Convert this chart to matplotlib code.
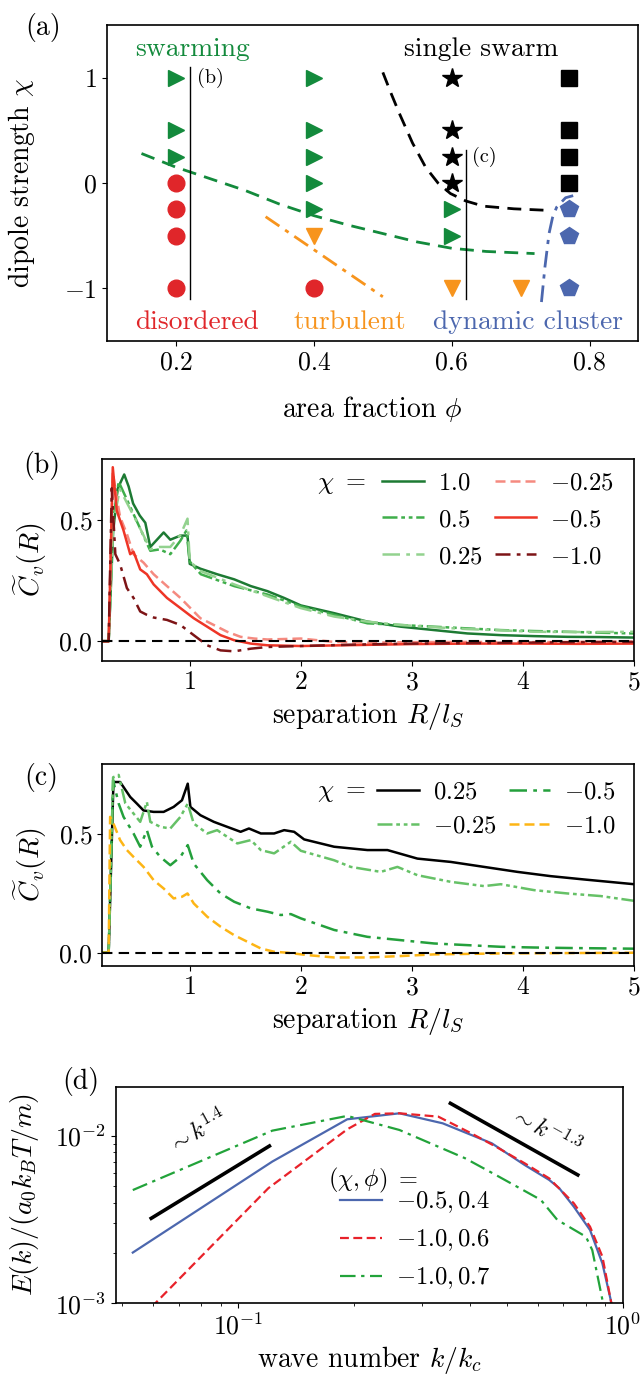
import matplotlib
matplotlib.use("Agg")
import matplotlib.pyplot as plt
import numpy as np

plt.rcParams.update({
    "font.family": "serif",
    "font.serif": ["cmr10", "DejaVu Serif"],
    "mathtext.fontset": "cm",
    "axes.formatter.use_mathtext": True,
    "axes.unicode_minus": True,
    "font.size": 18,
    "xtick.labelsize": 18.5,
    "ytick.labelsize": 18.5,
    "legend.fontsize": 17.7,
    "axes.labelsize": 20,
    "axes.linewidth": 1.2,
})

# ---------------- Panel (a) data: phase diagram ----------------
swarm_phi = [0.2, 0.2, 0.2, 0.4, 0.4, 0.4, 0.4, 0.4, 0.6, 0.6]
swarm_chi = [1.0, 0.5, 0.25, 1.0, 0.5, 0.25, 0.0, -0.25, -0.25, -0.5]
disorder_phi = [0.2, 0.2, 0.2, 0.2, 0.4]
disorder_chi = [0.0, -0.25, -0.5, -1.0, -1.0]
turb_phi = [0.4, 0.6, 0.7]
turb_chi = [-0.5, -1.0, -1.0]
single_phi = [0.6, 0.6, 0.6, 0.6]
single_chi = [1.0, 0.5, 0.25, 0.0]
square_phi = [0.77, 0.77, 0.77, 0.77]
square_chi = [1.0, 0.5, 0.25, 0.0]
cluster_phi = [0.77, 0.77, 0.77]
cluster_chi = [-0.25, -0.5, -1.0]

green_bnd_phi = [0.15, 0.2, 0.25, 0.3, 0.35, 0.4, 0.45, 0.5, 0.55, 0.6, 0.65, 0.72]
green_bnd_chi = [0.28, 0.15, 0.04, -0.07, -0.2, -0.31, -0.40, -0.48, -0.56, -0.62, -0.65, -0.67]
black_bnd_phi = [0.5, 0.512, 0.524, 0.543, 0.562, 0.58, 0.598, 0.62, 0.646, 0.69, 0.74]
black_bnd_chi = [1.05, 0.85, 0.66, 0.38, 0.15, 0.0, -0.10, -0.17, -0.22, -0.245, -0.26]
orange_bnd_phi = [0.33, 0.5]
orange_bnd_chi = [-0.32, -1.08]
blue_bnd_phi = [0.73, 0.735, 0.741, 0.746, 0.752, 0.765, 0.776]
blue_bnd_chi = [-1.13, -0.8, -0.48, -0.33, -0.23, -0.14, -0.12]

# ---------------- Panel (b) data ----------------
b_x_p100 = [0.21, 0.27, 0.31, 0.35, 0.41, 0.45, 0.49, 0.55, 0.6, 0.645, 0.705, 0.765, 0.825, 0.916, 0.98, 1.0,
            1.096, 1.247, 1.40, 1.55, 1.70, 1.85, 2.0, 2.3, 2.6, 2.9, 3.2, 3.5, 3.8, 4.1, 4.4, 4.7, 5.0]
b_y_p100 = [0.0, 0.0, 0.45, 0.63, 0.69, 0.64, 0.57, 0.52, 0.49, 0.39, 0.42, 0.45, 0.42, 0.437, 0.437, 0.32,
            0.30, 0.277, 0.256, 0.228, 0.207, 0.179, 0.148, 0.116, 0.081, 0.06, 0.046, 0.032, 0.025, 0.021, 0.018, 0.017, 0.015]
b_x_p050 = [0.21, 0.27, 0.31, 0.36, 0.46, 0.55, 0.645, 0.73, 0.825, 0.916, 0.97, 1.0, 1.1, 1.4, 1.7, 2.0,
            2.3, 2.6, 2.9, 3.2, 3.5, 3.8, 4.1, 4.4, 4.7, 5.0]
b_y_p050 = [0.0, 0.0, 0.5, 0.66, 0.56, 0.47, 0.374, 0.38, 0.36, 0.416, 0.458, 0.33, 0.277, 0.228, 0.193, 0.144,
            0.109, 0.074, 0.067, 0.06, 0.053, 0.046, 0.042, 0.039, 0.035, 0.032]
b_x_p025 = [0.21, 0.27, 0.31, 0.37, 0.46, 0.55, 0.645, 0.73, 0.825, 0.916, 0.98, 1.0, 1.1, 1.4, 1.7, 2.0,
            2.3, 2.6, 2.9, 3.2, 3.5, 3.8, 4.1, 4.4, 4.7, 5.0]
b_y_p025 = [0.0, 0.0, 0.48, 0.63, 0.55, 0.47, 0.38, 0.39, 0.39, 0.44, 0.507, 0.33, 0.29, 0.235, 0.186, 0.137,
            0.102, 0.081, 0.067, 0.058, 0.05, 0.045, 0.039, 0.038, 0.038, 0.039]
b_x_m025 = [0.21, 0.27, 0.307, 0.34, 0.373, 0.434, 0.494, 0.584, 0.675, 0.795, 0.916, 0.976, 1.096, 1.217,
            1.337, 1.458, 1.58, 1.70, 2.0, 2.3, 2.6, 3.0, 3.5, 4.0, 4.5, 5.0]
b_y_m025 = [0.0, 0.0, 0.70, 0.60, 0.514, 0.444, 0.36, 0.325, 0.277, 0.228, 0.179, 0.151, 0.095, 0.067,
            0.039, 0.018, 0.011, 0.007, 0.011, -0.003, -0.006, -0.004, -0.003, -0.004, -0.003, -0.002]
b_x_m050 = [0.21, 0.27, 0.307, 0.343, 0.404, 0.464, 0.494, 0.554, 0.614, 0.675, 0.795, 0.916, 1.036, 1.157,
            1.277, 1.40, 1.55, 1.70, 2.0, 2.5, 3.0, 3.5, 4.0, 4.5, 5.0]
b_y_m050 = [0.0, 0.0, 0.72, 0.54, 0.458, 0.36, 0.37, 0.297, 0.277, 0.235, 0.179, 0.137, 0.095, 0.06,
            0.025, 0.004, -0.01, -0.017, -0.02, -0.016, -0.012, -0.01, -0.01, -0.011, -0.01]
b_x_m100 = [0.21, 0.27, 0.298, 0.33, 0.373, 0.434, 0.494, 0.554, 0.614, 0.675, 0.795, 0.916, 1.036, 1.157,
            1.277, 1.40, 1.55, 1.70, 2.0, 2.5, 3.0, 3.5, 4.0, 4.5, 5.0]
b_y_m100 = [0.0, 0.0, 0.633, 0.36, 0.318, 0.22, 0.179, 0.123, 0.109, 0.098, 0.088, 0.067, 0.025, -0.017,
            -0.038, -0.042, -0.031, -0.024, -0.02, -0.014, -0.01, -0.008, -0.006, -0.004, -0.003]

# ---------------- Panel (c) data ----------------
c_x_p025 = [0.21, 0.27, 0.313, 0.373, 0.464, 0.524, 0.584, 0.675, 0.765, 0.855, 0.93, 0.982, 1.006, 1.096,
            1.217, 1.337, 1.458, 1.533, 1.64, 1.76, 1.85, 1.94, 2.03, 2.3, 2.6, 2.78, 3.05, 3.35, 3.65, 3.95,
            4.25, 4.55, 5.0]
c_y_p025 = [0.0, 0.0, 0.72, 0.72, 0.657, 0.629, 0.60, 0.594, 0.594, 0.615, 0.643, 0.713, 0.615, 0.58,
            0.552, 0.531, 0.51, 0.524, 0.503, 0.503, 0.517, 0.51, 0.478, 0.447, 0.433, 0.433, 0.397, 0.383,
            0.362, 0.341, 0.323, 0.309, 0.289]
c_x_m025 = [0.21, 0.27, 0.31, 0.36, 0.42, 0.494, 0.554, 0.614, 0.645, 0.735, 0.825, 0.916, 0.982, 1.036,
            1.157, 1.247, 1.337, 1.428, 1.55, 1.64, 1.76, 1.91, 2.0, 2.3, 2.45, 2.72, 2.87, 3.05, 3.35, 3.65,
            3.8, 4.1, 4.4, 4.7, 5.0]
c_y_m025 = [0.0, 0.0, 0.74, 0.75, 0.63, 0.587, 0.552, 0.636, 0.552, 0.531, 0.524, 0.573, 0.629, 0.545,
            0.503, 0.517, 0.489, 0.461, 0.475, 0.433, 0.419, 0.468, 0.43, 0.39, 0.362, 0.341, 0.362, 0.327,
            0.299, 0.281, 0.289, 0.264, 0.25, 0.239, 0.219]
c_x_m050 = [0.21, 0.27, 0.31, 0.36, 0.404, 0.494, 0.554, 0.614, 0.66, 0.735, 0.825, 0.916, 0.982, 1.036,
            1.157, 1.277, 1.40, 1.55, 1.70, 1.82, 1.91, 2.0, 2.3, 2.6, 2.9, 3.2, 3.5, 3.8, 4.1, 4.4, 5.0]
c_y_m050 = [0.0, 0.0, 0.727, 0.629, 0.573, 0.503, 0.447, 0.517, 0.447, 0.404, 0.369, 0.404, 0.454, 0.376,
            0.306, 0.25, 0.215, 0.187, 0.173, 0.159, 0.163, 0.145, 0.096, 0.067, 0.053, 0.039, 0.032, 0.025,
            0.022, 0.02, 0.017]
c_x_m100 = [0.21, 0.27, 0.283, 0.313, 0.373, 0.434, 0.494, 0.584, 0.675, 0.765, 0.855, 0.93, 0.98, 1.036,
            1.157, 1.277, 1.40, 1.52, 1.64, 1.76, 1.88, 2.06, 2.3, 2.6, 2.9, 3.2, 3.8, 5.0]
c_y_m100 = [0.0, 0.0, 0.573, 0.545, 0.475, 0.433, 0.404, 0.362, 0.306, 0.271, 0.229, 0.236, 0.25, 0.208,
            0.152, 0.11, 0.074, 0.046, 0.018, 0.004, 0.0, -0.01, -0.02, -0.02, -0.014, -0.007, -0.003, 0.0]

# ---------------- Panel (d) data ----------------
d_k_blue = [0.0532, 0.1226, 0.192, 0.2624, 0.34, 0.456, 0.555, 0.643, 0.683, 0.745, 0.821, 0.884, 0.929, 0.95]
d_E_blue = [0.00201, 0.00703, 0.01258, 0.01366, 0.0119, 0.00904, 0.00671, 0.00546, 0.00487, 0.00378, 0.00274,
            0.00173, 0.00105, 0.0008]
d_k_red = [0.0532, 0.1197, 0.192, 0.2265, 0.2624, 0.331, 0.403, 0.467, 0.555, 0.643, 0.745, 0.821, 0.884, 0.929, 0.95]
d_E_red = [0.00073, 0.00487, 0.01096, 0.01355, 0.01366, 0.01305, 0.01038, 0.00864, 0.00687, 0.00558, 0.00396,
           0.00287, 0.0019, 0.00105, 0.0008]
d_k_green = [0.0532, 0.1226, 0.192, 0.2624, 0.3886, 0.467, 0.6116, 0.675, 0.801, 0.832, 0.884, 0.9]
d_E_green = [0.00475, 0.01076, 0.01318, 0.01086, 0.00736, 0.00585, 0.00415, 0.00315, 0.0025, 0.00208, 0.00105, 0.0008]
guide1_k = [0.0594, 0.1205]
guide1_E = [0.00322, 0.00871]
guide2_k = [0.356, 0.763]
guide2_E = [0.01567, 0.00585]

# colors
GREEN = "#138a3c"
RED = "#e0262a"
ORANGE = "#f7941d"
BLUE = "#4c67ae"

W, H = 641, 1377
fig = plt.figure(figsize=(W / 100, H / 100), dpi=100)


def rect(l, r, t, b):
    return [l / W, 1 - b / H, (r - l) / W, (b - t) / H]


def ftext(x, y, s, **kw):
    return fig.text(x / W, 1 - y / H, s, **kw)


LEG = dict(frameon=False, handlelength=1.7, handletextpad=0.57, columnspacing=0.5,
           borderpad=0, borderaxespad=0)
PANEL_FS = 20

# ================= (a) =================
axa = fig.add_axes(rect(107, 638, 25, 341))
ms = 12
axa.plot(swarm_phi, swarm_chi, ">", color=GREEN, ms=ms, ls="none")
axa.plot(disorder_phi, disorder_chi, "o", color=RED, ms=ms, ls="none")
axa.plot(turb_phi, turb_chi, "v", color=ORANGE, ms=ms, ls="none")
axa.plot(single_phi, single_chi, "*", color="black", ms=ms + 3, ls="none")
axa.plot(square_phi, square_chi, "s", color="black", ms=ms - 1, ls="none")
axa.plot(cluster_phi, cluster_chi, "p", color=BLUE, ms=ms + 1, ls="none")

axa.plot(green_bnd_phi, green_bnd_chi, color=GREEN, lw=2, dashes=(5, 3))
axa.plot(black_bnd_phi, black_bnd_chi, color="black", lw=2, dashes=(5, 3))
axa.plot(orange_bnd_phi, orange_bnd_chi, color=ORANGE, lw=2, dashes=(6, 2.5, 1.5, 2.5))
axa.plot(blue_bnd_phi, blue_bnd_chi, color=BLUE, lw=2, dashes=(6, 2.5, 1.5, 2.5))

axa.plot([0.22, 0.22], [-1.1, 1.1], color="black", lw=1)
axa.plot([0.62, 0.62], [-1.1, 0.31], color="black", lw=1)
axa.text(0.23, 1.0, "(b)", fontsize=14.5, va="center", ha="left")
axa.text(0.63, 0.25, "(c)", fontsize=14.5, va="center", ha="left")

phase_fs = 19.8
axa.text(0.224, 1.27, "swarming", color=GREEN, ha="center", va="center", fontsize=phase_fs)
axa.text(0.643, 1.27, "single swarm", color="black", ha="center", va="center", fontsize=phase_fs)
axa.text(0.23, -1.32, "disordered", color=RED, ha="center", va="center", fontsize=phase_fs)
axa.text(0.452, -1.32, "turbulent", color=ORANGE, ha="center", va="center", fontsize=phase_fs)
axa.text(0.711, -1.32, "dynamic cluster", color=BLUE, ha="center", va="center", fontsize=phase_fs)

axa.set_xlim(0.1, 0.87)
axa.set_ylim(-1.5, 1.5)
axa.set_xticks([0.2, 0.4, 0.6, 0.8])
axa.set_xticklabels(["0.2", "0.4", "0.6", "0.8"])
axa.set_yticks([-1, 0, 1])
axa.set_xlabel(r"area fraction $\phi$", labelpad=14)
axa.set_ylabel(r"dipole strength $\chi$")
axa.yaxis.set_label_coords(-0.132, 0.5)
ftext(43, 28, "(a)", ha="center", va="center", fontsize=PANEL_FS)

# ================= (b) =================
axb = fig.add_axes(rect(102, 634, 459, 661))
axb.axhline(0, color="black", lw=1.5, dashes=(5, 3), zorder=5)
axb.plot(b_x_p100, b_y_p100, color="#1d7a33", lw=1.8, label="$1.0$")
axb.plot(b_x_p050, b_y_p050, color="#3fae4b", lw=1.8, dashes=(6, 1.5, 1.5, 1.5, 1.5, 1.5), label="$0.5$")
axb.plot(b_x_p025, b_y_p025, color="#93d28f", lw=1.8, dashes=(7, 2.5, 1.5, 2.5), label="$0.25$")
axb.plot(b_x_m025, b_y_m025, color="#f58a80", lw=1.8, dashes=(4, 2), label="$-0.25$")
axb.plot(b_x_m050, b_y_m050, color="#ee3526", lw=1.8, label="$-0.5$")
axb.plot(b_x_m100, b_y_m100, color="#7d1416", lw=1.8, dashes=(6, 2.5, 1.5, 2.5), label="$-1.0$")
axb.set_xlim(0.21, 5)
axb.set_ylim(-0.082, 0.754)
axb.set_xticks([1, 2, 3, 4, 5])
axb.set_yticks([0.0, 0.5])
axb.set_yticklabels(["0.0", "0.5"])
axb.set_xlabel(r"separation $R/l_S$", labelpad=5)
axb.set_ylabel(r"$\widetilde{C}_v(R)$")
axb.yaxis.set_label_coords(-0.10, 0.5)
axb.legend(ncol=2, loc="upper left", bbox_to_anchor=((382 - 102) / 532, 0.936),
           labelspacing=0.6, **LEG)
ftext(317, 484, r"$\chi\ =$", ha="left", va="center", fontsize=18.5)
ftext(42, 466, "(b)", ha="center", va="center", fontsize=PANEL_FS)

# ================= (c) =================
axc = fig.add_axes(rect(102, 634, 764, 966))
axc.axhline(0, color="black", lw=1.5, dashes=(5, 3), zorder=5)
l1, = axc.plot(c_x_p025, c_y_p025, color="black", lw=1.8, label="$0.25$")
l3, = axc.plot(c_x_m050, c_y_m050, color="#24a03c", lw=1.8, dashes=(7, 2.5, 1.5, 2.5), label="$-0.5$")
l2, = axc.plot(c_x_m025, c_y_m025, color="#66c167", lw=1.8, dashes=(6, 1.5, 1.5, 1.5, 1.5, 1.5), label="$-0.25$")
l4, = axc.plot(c_x_m100, c_y_m100, color="#fdb515", lw=1.8, dashes=(4, 2), label="$-1.0$")
axc.set_xlim(0.21, 5)
axc.set_ylim(-0.056, 0.796)
axc.set_xticks([1, 2, 3, 4, 5])
axc.set_yticks([0.0, 0.5])
axc.set_yticklabels(["0.0", "0.5"])
axc.set_xlabel(r"separation $R/l_S$", labelpad=5)
axc.set_ylabel(r"$\widetilde{C}_v(R)$")
axc.yaxis.set_label_coords(-0.10, 0.5)
axc.legend([l1, l2, l3, l4], ["$0.25$", "$-0.25$", "$-0.5$", "$-1.0$"], ncol=2,
           loc="upper left", bbox_to_anchor=((377 - 102) / 532, 0.916),
           labelspacing=0.5, **LEG)
ftext(317, 792, r"$\chi\ =$", ha="left", va="center", fontsize=18.5)
ftext(41, 777, "(c)", ha="center", va="center", fontsize=PANEL_FS)

# ================= (d) =================
axd = fig.add_axes(rect(115.6, 623, 1086.7, 1303.3))
axd.plot(d_k_blue, d_E_blue, color=BLUE, lw=1.6, label=r"$-0.5, 0.4$")
axd.plot(d_k_red, d_E_red, color="#e8222a", lw=1.6, dashes=(4, 2), label=r"$-1.0, 0.6$")
axd.plot(d_k_green, d_E_green, color="#22a33a", lw=1.6, dashes=(7, 2.5, 1.5, 2.5), label=r"$-1.0, 0.7$")
axd.plot(guide1_k, guide1_E, color="black", lw=2.6)
axd.plot(guide2_k, guide2_E, color="black", lw=2.6)
axd.text(0.0785, 0.0106, r"$\sim k^{1.4}$", rotation=29, ha="center", va="center", fontsize=17)
axd.text(0.63, 0.0107, r"$\sim k^{-1.3}$", rotation=-29, ha="center", va="center", fontsize=17)
axd.set_xscale("log")
axd.set_yscale("log")
axd.set_xlim(0.048, 1.0)
axd.set_ylim(1e-3, 0.0197)
axd.set_xlabel(r"wave number $k/k_c$", labelpad=3)
axd.set_ylabel(r"$E(k)/(a_0 k_B T/m)$")
axd.yaxis.set_label_coords(-0.147, 0.5)
axd.legend(loc="lower left", bbox_to_anchor=((340 - 115.6) / 507.4, 0.057),
           labelspacing=0.5, **LEG)
ftext(328, 1180, r"$(\chi, \phi)\ =$", ha="left", va="center", fontsize=17.5)
ftext(81, 1082, "(d)", ha="center", va="center", fontsize=PANEL_FS)

fig.savefig("out.png", dpi=100)
